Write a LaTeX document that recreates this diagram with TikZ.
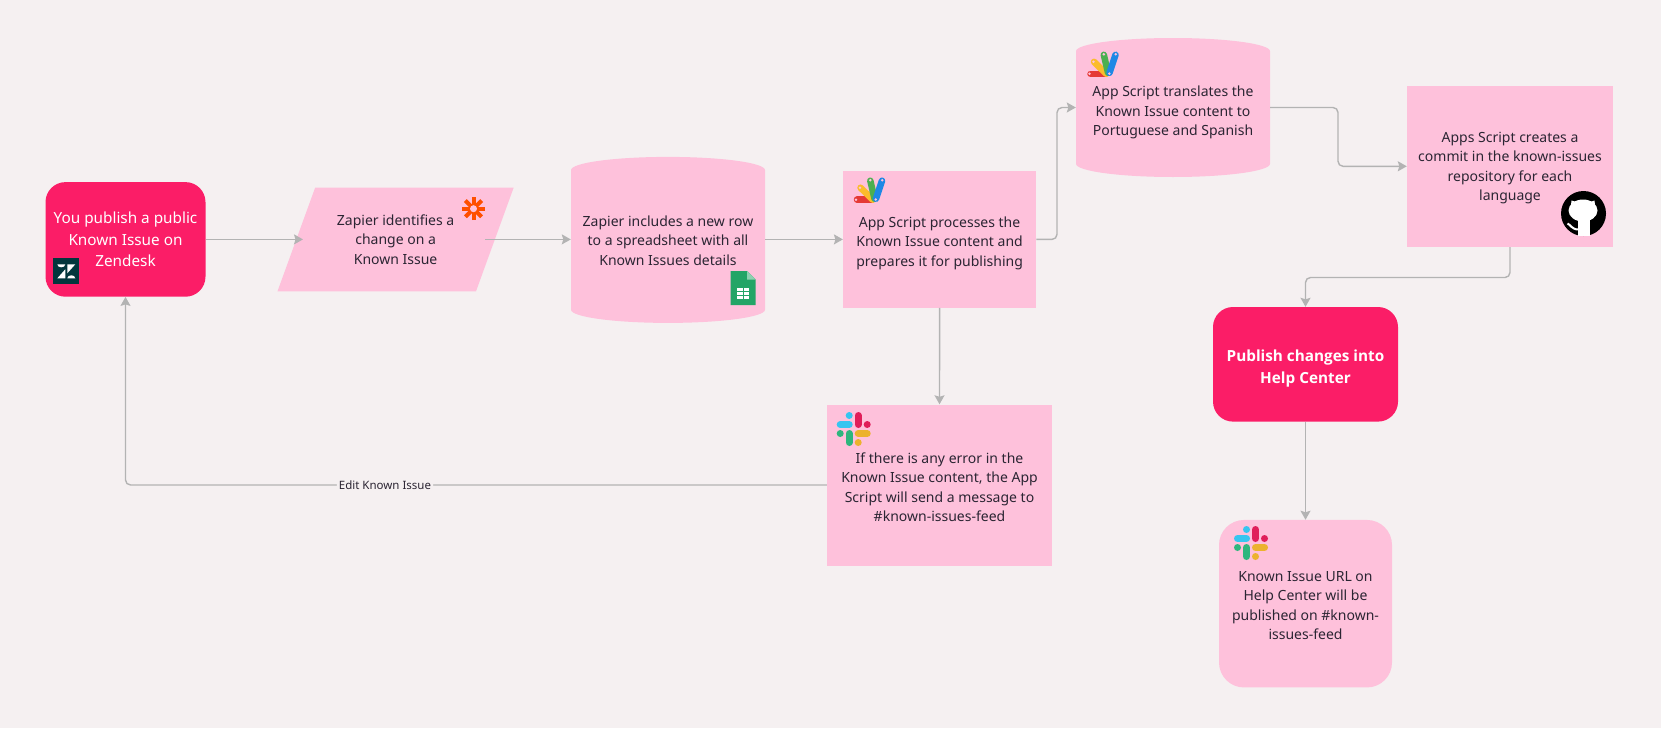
\documentclass[tikz,border=0pt]{standalone}
\usepackage{fontspec}
\setmainfont{Noto Sans}
\newfontfamily\boldhead{Open Sans}
\usetikzlibrary{shapes.geometric}
\usetikzlibrary{arrows.meta}
\definecolor{paperbg}{HTML}{F5F0F1}
\definecolor{softpink}{HTML}{FEC1DB}
\definecolor{hotpink}{HTML}{FB1D67}
\definecolor{wiregrey}{HTML}{B3B3B3}
\definecolor{inktext}{HTML}{2B2533}
\newcommand{\bodysize}{\fontsize{14}{19.4}\selectfont}
\newcommand{\hotsize}{\fontsize{15.3}{21.2}\selectfont}
\newcommand{\tankspace}{\hspace*{160pt}\rule{0pt}{50pt}}
\newcommand{\lift}[1]{\rule{0pt}{#1}}
\tikzset{
	softbox/.style={fill=softpink, text=inktext, align=center, font=\bodysize, inner sep=0pt},
	hotbox/.style={fill=hotpink, text=white, align=center, inner sep=0pt, rounded corners=20pt},
	tank/.style={fill=softpink, inner sep=0pt, cylinder, shape border rotate=90, shape aspect=0.165, anchor=shape center},
	tanktext/.style={text=inktext, align=center, font=\bodysize, inner sep=0pt},
	wire/.style={draw=wiregrey, line width=1.4pt, rounded corners=5pt, -{Stealth[length=9pt,width=10pt,inset=1.5pt]}},
	slackicon/.pic={
		\foreach \tint/\turn in {36C5F0/0, 2EB67D/90, ECB22E/180, E01E5A/270}{
			\definecolor{petal}{HTML}{\tint}
			\begin{scope}[rotate=\turn]
				\draw[petal, line width=7pt, line cap=round] (-13.5,-4.5) -- (-4.5,-4.5);
				\fill[petal] (-4.5,-13.5) circle[radius=3.5pt];
			\end{scope}
		}
	},
	scripticon/.pic={
		\draw[line width=6.5pt, line cap=round, draw={rgb,255:red,229;green,57;blue,53}] (-13,9) -- (2,9);
		\draw[line width=6.5pt, line cap=round, draw={rgb,255:red,251;green,188;blue,44}] (-9.5,-3) -- (2.7,9);
		\draw[line width=6.5pt, line cap=round, draw={rgb,255:red,76;green,175;blue,80}] (0.3,-10) -- (4.5,8);
		\draw[line width=6.5pt, line cap=round, draw={rgb,255:red,30;green,136;blue,229}] (12,-10) -- (6,8);
		\foreach \dotx/\doty in {-14/9, -10/-3, 0.3/-10.5, 12.2/-10.5, 5.8/8.8}{
			\fill[softpink] (\dotx,\doty) circle[radius=1.4pt];
		}
	},
	zapiericon/.pic={
		\foreach \turn in {0,45,90,135}{
			\draw[rotate=\turn, draw={rgb,255:red,255;green,79;blue,0}, line width=4pt] (-11.5,0) -- (11.5,0);
		}
		\fill[softpink] (0,0) circle[radius=3.5pt];
	},
	sheeticon/.pic={
		\fill[fill={rgb,255:red,35;green,165;blue,102}] (-12.5,-17) -- (4,-17) -- (12.5,-8.5) -- (12.5,17) -- (-12.5,17) -- cycle;
		\fill[fill={rgb,255:red,142;green,209;blue,177}] (4,-17) -- (12.5,-8.5) -- (4,-8.5) -- cycle;
		\fill[white] (-6,0) rectangle (6,11);
		\draw[line width=1pt, draw={rgb,255:red,35;green,165;blue,102}] (0,0) -- (0,11) (-6,3.7) -- (6,3.7) (-6,7.3) -- (6,7.3);
	},
	zendeskicon/.pic={
		\fill[fill={rgb,255:red,3;green,54;blue,61}] (-13,-13) rectangle (13,13);
		\fill[white] (-9,-7) -- (-1,-7) .. controls (-1,-3) and (-9,-3) .. (-9,-7);
		\fill[white] (1,-7) -- (9,-7) -- (1,2) -- cycle;
		\fill[white] (-1,-2) -- (-1,7) -- (-9,7) -- cycle;
		\fill[white] (1,7) -- (9,7) .. controls (9,3) and (1,3) .. (1,7);
	},
	catagonicon/.pic={
		\fill[black] (0,0) circle[radius=22.5pt];
		\fill[white] (-0.5,-3) ellipse[x radius=14.5, y radius=11];
		\fill[white] (-12,-13) -- (-3,-10) -- (-13,-4) -- cycle;
		\fill[white] (11,-13) -- (2,-10) -- (12,-4) -- cycle;
		\fill[white] (-5.5,6) rectangle (6.5,22);
		\draw[white, line width=2pt] (-16,10) .. controls (-13,11) and (-12,16) .. (-5,16);
	},
}
\begin{document}
\begin{tikzpicture}[x=1pt, y=-1pt]
	\fill[paperbg] (0,0) rectangle (1661,728);
	% Boxes:
	\node[hotbox, font=\hotsize, minimum width=160, minimum height=114.6](zendesk) at (125.5, 239.4){You publish a public\\Known Issue on\\Zendesk};
	\node[softbox, trapezium, trapezium left angle=61, trapezium right angle=119, trapezium stretches=true, minimum width=236.3, minimum height=103.8](zapier) at (395.6, 239.4){Zapier identifies a\\change on a\\Known Issue};
	\node[tank, minimum width=194, minimum height=166](sheet) at (668, 239.9){\tankspace} node[tanktext](sheetText) at (668, 240.4){Zapier includes a new row\\to a spreadsheet with all\\Known Issues details};
	\node[softbox, minimum width=193, minimum height=136.7](process) at (939.6, 239.4){\lift{18pt}App Script processes the\\Known Issue content and\\prepares it for publishing};
	\node[tank, minimum width=194, minimum height=139](translate) at (1173, 107.5){\tankspace} node[tanktext](translateText) at (1173, 112.5){App Script translates the\\Known Issue content to\\Portuguese and Spanish};
	\node[softbox, minimum width=206, minimum height=161](commit) at (1510, 166.3){\lift{14pt}Apps Script creates a\\commit in the known-issues\\repository for each\\language};
	\node[hotbox, font=\hotsize\boldhead\bfseries, minimum width=185, minimum height=114.6](publish) at (1305.5, 364.3){\lift{20pt}Publish changes into\\Help Center};
	\node[softbox, minimum width=225, minimum height=161](error) at (939.5, 485){\lift{15pt}If there is any error in the\\Known Issue content, the App\\Script will send a message to\\\#known-issues-feed};
	\node[softbox, rounded corners=25pt, minimum width=173, minimum height=167.5](feed) at (1305.5, 603.7){\lift{14pt}Known Issue URL on\\Help Center will be\\published on \#known-\\issues-feed};
	% Wires:
	\coordinate (zapierIn) at (303, 239.4);
	\coordinate (zapierOut) at (485, 239.4);
	\coordinate (bendA) at (1057, 170);
	\coordinate (bendB) at (1338, 135);
	\coordinate (bendC) at (1400, 277.5);
	\draw[wire] (zendesk.east) -- (zapierIn);
	\draw[wire] (zapierOut) -- (zapierOut -| sheet.west);
	\draw[wire] (zapierOut -| sheet.east) -- (process.west);
	\draw[wire] (process.east) -| (bendA) |- (translate.shape center -| translate.west);
	\draw[wire] (translate.shape center -| translate.east) -| (bendB) |- (commit.west);
	\draw[wire] (commit.south) |- (bendC) -| (publish.north);
	\draw[wire] (publish.south) -- (feed.north);
	\draw[wire] (process.south) -- (error.north);
	\draw[wire] (error.west) -| node[pos=0.315, fill=paperbg, text=inktext, font=\fontsize{11.5}{13}\selectfont, inner sep=2pt](editlabel){Edit Known Issue} (zendesk.south);
	% Icons:
	\pic (iconZendesk) at (66.3, 271.3) {zendeskicon};
	\pic (iconZapier) at (473.5, 208.7) {zapiericon};
	\pic (iconSheet) at (743, 288) {sheeticon};
	\pic (iconProcess) at (870, 190.7) {scripticon};
	\pic (iconTranslate) at (1103.5, 64.8) {scripticon};
	\pic (iconCommit) at (1583.5, 213.5) {catagonicon};
	\pic (iconError) at (853.7, 429) {slackicon};
	\pic (iconFeed) at (1251, 543) {slackicon};
\end{tikzpicture}
\end{document}
